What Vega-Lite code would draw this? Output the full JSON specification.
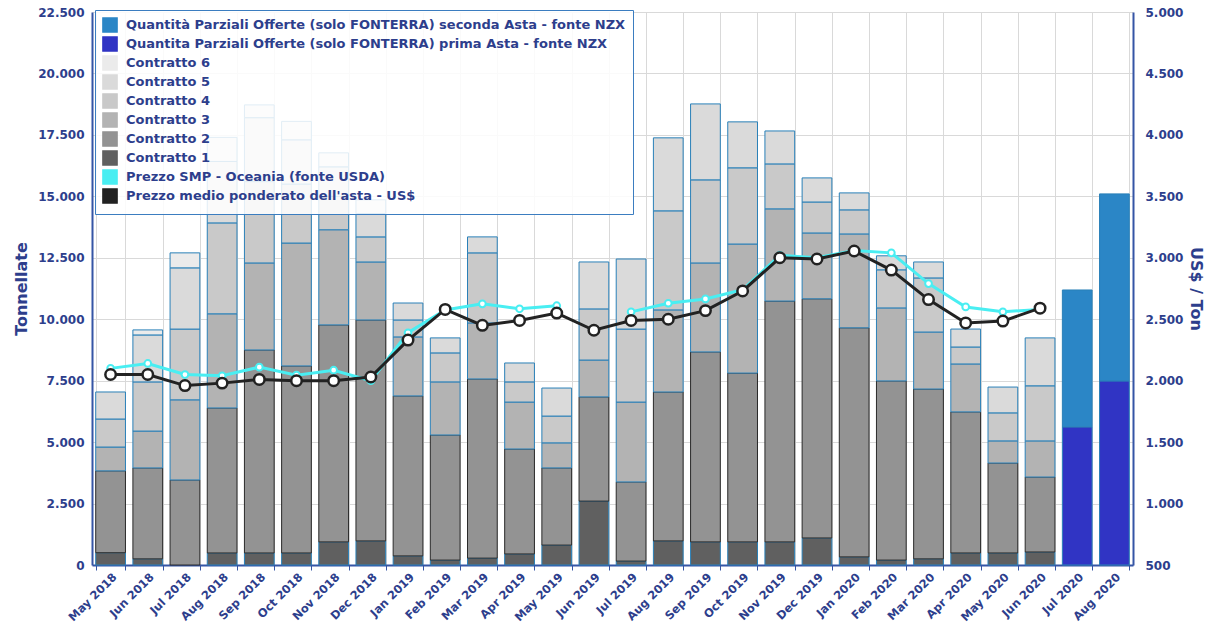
{
  "$schema": "https://vega.github.io/schema/vega-lite/v6.json",
  "width": 1041,
  "height": 553,
  "autosize": {"type": "none"},
  "padding": {"left": 92, "top": 12, "right": 83, "bottom": 60},
  "datasets": {
    "quantita": [
      {"mese": "May 2018", "serie": "Contratto 1", "t": 500},
      {"mese": "May 2018", "serie": "Contratto 2", "t": 3330},
      {"mese": "May 2018", "serie": "Contratto 3", "t": 970},
      {"mese": "May 2018", "serie": "Contratto 4", "t": 1140},
      {"mese": "May 2018", "serie": "Contratto 5", "t": 1100},
      {"mese": "Jun 2018", "serie": "Contratto 1", "t": 250},
      {"mese": "Jun 2018", "serie": "Contratto 2", "t": 3700},
      {"mese": "Jun 2018", "serie": "Contratto 3", "t": 1500},
      {"mese": "Jun 2018", "serie": "Contratto 4", "t": 2000},
      {"mese": "Jun 2018", "serie": "Contratto 5", "t": 1910},
      {"mese": "Jun 2018", "serie": "Contratto 6", "t": 205},
      {"mese": "Jul 2018", "serie": "Contratto 2", "t": 3460},
      {"mese": "Jul 2018", "serie": "Contratto 3", "t": 3260},
      {"mese": "Jul 2018", "serie": "Contratto 4", "t": 2880},
      {"mese": "Jul 2018", "serie": "Contratto 5", "t": 2490},
      {"mese": "Jul 2018", "serie": "Contratto 6", "t": 610},
      {"mese": "Aug 2018", "serie": "Contratto 1", "t": 490},
      {"mese": "Aug 2018", "serie": "Contratto 2", "t": 5900},
      {"mese": "Aug 2018", "serie": "Contratto 3", "t": 3830},
      {"mese": "Aug 2018", "serie": "Contratto 4", "t": 3700},
      {"mese": "Aug 2018", "serie": "Contratto 5", "t": 2500},
      {"mese": "Aug 2018", "serie": "Contratto 6", "t": 980},
      {"mese": "Sep 2018", "serie": "Contratto 1", "t": 490},
      {"mese": "Sep 2018", "serie": "Contratto 2", "t": 8260},
      {"mese": "Sep 2018", "serie": "Contratto 3", "t": 3540},
      {"mese": "Sep 2018", "serie": "Contratto 4", "t": 3310},
      {"mese": "Sep 2018", "serie": "Contratto 5", "t": 2600},
      {"mese": "Sep 2018", "serie": "Contratto 6", "t": 520},
      {"mese": "Oct 2018", "serie": "Contratto 1", "t": 490},
      {"mese": "Oct 2018", "serie": "Contratto 2", "t": 7610},
      {"mese": "Oct 2018", "serie": "Contratto 3", "t": 5000},
      {"mese": "Oct 2018", "serie": "Contratto 4", "t": 2400},
      {"mese": "Oct 2018", "serie": "Contratto 5", "t": 1800},
      {"mese": "Oct 2018", "serie": "Contratto 6", "t": 750},
      {"mese": "Nov 2018", "serie": "Contratto 1", "t": 940},
      {"mese": "Nov 2018", "serie": "Contratto 2", "t": 8830},
      {"mese": "Nov 2018", "serie": "Contratto 3", "t": 3870},
      {"mese": "Nov 2018", "serie": "Contratto 4", "t": 1360},
      {"mese": "Nov 2018", "serie": "Contratto 5", "t": 1200},
      {"mese": "Nov 2018", "serie": "Contratto 6", "t": 570},
      {"mese": "Dec 2018", "serie": "Contratto 1", "t": 980},
      {"mese": "Dec 2018", "serie": "Contratto 2", "t": 8990},
      {"mese": "Dec 2018", "serie": "Contratto 3", "t": 2360},
      {"mese": "Dec 2018", "serie": "Contratto 4", "t": 1020},
      {"mese": "Dec 2018", "serie": "Contratto 5", "t": 950},
      {"mese": "Dec 2018", "serie": "Contratto 6", "t": 560},
      {"mese": "Jan 2019", "serie": "Contratto 1", "t": 370},
      {"mese": "Jan 2019", "serie": "Contratto 2", "t": 6510},
      {"mese": "Jan 2019", "serie": "Contratto 3", "t": 2400},
      {"mese": "Jan 2019", "serie": "Contratto 4", "t": 690},
      {"mese": "Jan 2019", "serie": "Contratto 5", "t": 690},
      {"mese": "Feb 2019", "serie": "Contratto 1", "t": 200},
      {"mese": "Feb 2019", "serie": "Contratto 2", "t": 5090},
      {"mese": "Feb 2019", "serie": "Contratto 3", "t": 2160},
      {"mese": "Feb 2019", "serie": "Contratto 4", "t": 1180},
      {"mese": "Feb 2019", "serie": "Contratto 5", "t": 610},
      {"mese": "Mar 2019", "serie": "Contratto 1", "t": 280},
      {"mese": "Mar 2019", "serie": "Contratto 2", "t": 7290},
      {"mese": "Mar 2019", "serie": "Contratto 3", "t": 2280},
      {"mese": "Mar 2019", "serie": "Contratto 4", "t": 2850},
      {"mese": "Mar 2019", "serie": "Contratto 5", "t": 650},
      {"mese": "Apr 2019", "serie": "Contratto 1", "t": 450},
      {"mese": "Apr 2019", "serie": "Contratto 2", "t": 4270},
      {"mese": "Apr 2019", "serie": "Contratto 3", "t": 1910},
      {"mese": "Apr 2019", "serie": "Contratto 4", "t": 820},
      {"mese": "Apr 2019", "serie": "Contratto 5", "t": 770},
      {"mese": "May 2019", "serie": "Contratto 1", "t": 810},
      {"mese": "May 2019", "serie": "Contratto 2", "t": 3140},
      {"mese": "May 2019", "serie": "Contratto 3", "t": 1020},
      {"mese": "May 2019", "serie": "Contratto 4", "t": 1090},
      {"mese": "May 2019", "serie": "Contratto 5", "t": 1140},
      {"mese": "Jun 2019", "serie": "Contratto 1", "t": 2600},
      {"mese": "Jun 2019", "serie": "Contratto 2", "t": 4240},
      {"mese": "Jun 2019", "serie": "Contratto 3", "t": 1500},
      {"mese": "Jun 2019", "serie": "Contratto 4", "t": 2080},
      {"mese": "Jun 2019", "serie": "Contratto 5", "t": 1910},
      {"mese": "Jul 2019", "serie": "Contratto 1", "t": 160},
      {"mese": "Jul 2019", "serie": "Contratto 2", "t": 3220},
      {"mese": "Jul 2019", "serie": "Contratto 3", "t": 3250},
      {"mese": "Jul 2019", "serie": "Contratto 4", "t": 2970},
      {"mese": "Jul 2019", "serie": "Contratto 5", "t": 2850},
      {"mese": "Aug 2019", "serie": "Contratto 1", "t": 980},
      {"mese": "Aug 2019", "serie": "Contratto 2", "t": 6060},
      {"mese": "Aug 2019", "serie": "Contratto 3", "t": 3340},
      {"mese": "Aug 2019", "serie": "Contratto 4", "t": 4030},
      {"mese": "Aug 2019", "serie": "Contratto 5", "t": 2970},
      {"mese": "Sep 2019", "serie": "Contratto 1", "t": 940},
      {"mese": "Sep 2019", "serie": "Contratto 2", "t": 7730},
      {"mese": "Sep 2019", "serie": "Contratto 3", "t": 3620},
      {"mese": "Sep 2019", "serie": "Contratto 4", "t": 3380},
      {"mese": "Sep 2019", "serie": "Contratto 5", "t": 3090},
      {"mese": "Oct 2019", "serie": "Contratto 1", "t": 940},
      {"mese": "Oct 2019", "serie": "Contratto 2", "t": 6870},
      {"mese": "Oct 2019", "serie": "Contratto 3", "t": 5250},
      {"mese": "Oct 2019", "serie": "Contratto 4", "t": 3100},
      {"mese": "Oct 2019", "serie": "Contratto 5", "t": 1870},
      {"mese": "Nov 2019", "serie": "Contratto 1", "t": 940},
      {"mese": "Nov 2019", "serie": "Contratto 2", "t": 9800},
      {"mese": "Nov 2019", "serie": "Contratto 3", "t": 3750},
      {"mese": "Nov 2019", "serie": "Contratto 4", "t": 1830},
      {"mese": "Nov 2019", "serie": "Contratto 5", "t": 1340},
      {"mese": "Dec 2019", "serie": "Contratto 1", "t": 1100},
      {"mese": "Dec 2019", "serie": "Contratto 2", "t": 9730},
      {"mese": "Dec 2019", "serie": "Contratto 3", "t": 2680},
      {"mese": "Dec 2019", "serie": "Contratto 4", "t": 1260},
      {"mese": "Dec 2019", "serie": "Contratto 5", "t": 980},
      {"mese": "Jan 2020", "serie": "Contratto 1", "t": 330},
      {"mese": "Jan 2020", "serie": "Contratto 2", "t": 9320},
      {"mese": "Jan 2020", "serie": "Contratto 3", "t": 3820},
      {"mese": "Jan 2020", "serie": "Contratto 4", "t": 980},
      {"mese": "Jan 2020", "serie": "Contratto 5", "t": 690},
      {"mese": "Feb 2020", "serie": "Contratto 1", "t": 200},
      {"mese": "Feb 2020", "serie": "Contratto 2", "t": 7290},
      {"mese": "Feb 2020", "serie": "Contratto 3", "t": 2970},
      {"mese": "Feb 2020", "serie": "Contratto 4", "t": 1550},
      {"mese": "Feb 2020", "serie": "Contratto 5", "t": 570},
      {"mese": "Mar 2020", "serie": "Contratto 1", "t": 250},
      {"mese": "Mar 2020", "serie": "Contratto 2", "t": 6910},
      {"mese": "Mar 2020", "serie": "Contratto 3", "t": 2320},
      {"mese": "Mar 2020", "serie": "Contratto 4", "t": 2200},
      {"mese": "Mar 2020", "serie": "Contratto 5", "t": 650},
      {"mese": "Apr 2020", "serie": "Contratto 1", "t": 490},
      {"mese": "Apr 2020", "serie": "Contratto 2", "t": 5740},
      {"mese": "Apr 2020", "serie": "Contratto 3", "t": 1950},
      {"mese": "Apr 2020", "serie": "Contratto 4", "t": 690},
      {"mese": "Apr 2020", "serie": "Contratto 5", "t": 730},
      {"mese": "May 2020", "serie": "Contratto 1", "t": 490},
      {"mese": "May 2020", "serie": "Contratto 2", "t": 3660},
      {"mese": "May 2020", "serie": "Contratto 3", "t": 900},
      {"mese": "May 2020", "serie": "Contratto 4", "t": 1140},
      {"mese": "May 2020", "serie": "Contratto 5", "t": 1050},
      {"mese": "Jun 2020", "serie": "Contratto 1", "t": 530},
      {"mese": "Jun 2020", "serie": "Contratto 2", "t": 3050},
      {"mese": "Jun 2020", "serie": "Contratto 3", "t": 1470},
      {"mese": "Jun 2020", "serie": "Contratto 4", "t": 2240},
      {"mese": "Jun 2020", "serie": "Contratto 5", "t": 1950},
      {"mese": "Jul 2020", "serie": "Quantita Parziali Offerte (solo FONTERRA) prima Asta - fonte NZX", "t": 5620},
      {"mese": "Jul 2020", "serie": "Quantità Parziali Offerte (solo FONTERRA) seconda Asta - fonte NZX", "t": 5570},
      {"mese": "Aug 2020", "serie": "Quantita Parziali Offerte (solo FONTERRA) prima Asta - fonte NZX", "t": 7490},
      {"mese": "Aug 2020", "serie": "Quantità Parziali Offerte (solo FONTERRA) seconda Asta - fonte NZX", "t": 7610}
    ],
    "prezzi": [
      {"mese": "May 2018", "serie": "Prezzo SMP - Oceania (fonte USDA)", "prezzo": 2100},
      {"mese": "Jun 2018", "serie": "Prezzo SMP - Oceania (fonte USDA)", "prezzo": 2140},
      {"mese": "Jul 2018", "serie": "Prezzo SMP - Oceania (fonte USDA)", "prezzo": 2050},
      {"mese": "Aug 2018", "serie": "Prezzo SMP - Oceania (fonte USDA)", "prezzo": 2040},
      {"mese": "Sep 2018", "serie": "Prezzo SMP - Oceania (fonte USDA)", "prezzo": 2110},
      {"mese": "Oct 2018", "serie": "Prezzo SMP - Oceania (fonte USDA)", "prezzo": 2045},
      {"mese": "Nov 2018", "serie": "Prezzo SMP - Oceania (fonte USDA)", "prezzo": 2085},
      {"mese": "Dec 2018", "serie": "Prezzo SMP - Oceania (fonte USDA)", "prezzo": 2000},
      {"mese": "Jan 2019", "serie": "Prezzo SMP - Oceania (fonte USDA)", "prezzo": 2390},
      {"mese": "Feb 2019", "serie": "Prezzo SMP - Oceania (fonte USDA)", "prezzo": 2575},
      {"mese": "Mar 2019", "serie": "Prezzo SMP - Oceania (fonte USDA)", "prezzo": 2625},
      {"mese": "Apr 2019", "serie": "Prezzo SMP - Oceania (fonte USDA)", "prezzo": 2585},
      {"mese": "May 2019", "serie": "Prezzo SMP - Oceania (fonte USDA)", "prezzo": 2610},
      {"mese": "Jun 2019", "serie": "Prezzo SMP - Oceania (fonte USDA)", "prezzo": null},
      {"mese": "Jul 2019", "serie": "Prezzo SMP - Oceania (fonte USDA)", "prezzo": 2560},
      {"mese": "Aug 2019", "serie": "Prezzo SMP - Oceania (fonte USDA)", "prezzo": 2630},
      {"mese": "Sep 2019", "serie": "Prezzo SMP - Oceania (fonte USDA)", "prezzo": 2665},
      {"mese": "Oct 2019", "serie": "Prezzo SMP - Oceania (fonte USDA)", "prezzo": 2740},
      {"mese": "Nov 2019", "serie": "Prezzo SMP - Oceania (fonte USDA)", "prezzo": 3020},
      {"mese": "Dec 2019", "serie": "Prezzo SMP - Oceania (fonte USDA)", "prezzo": 3000},
      {"mese": "Jan 2020", "serie": "Prezzo SMP - Oceania (fonte USDA)", "prezzo": 3060},
      {"mese": "Feb 2020", "serie": "Prezzo SMP - Oceania (fonte USDA)", "prezzo": 3040},
      {"mese": "Mar 2020", "serie": "Prezzo SMP - Oceania (fonte USDA)", "prezzo": 2790},
      {"mese": "Apr 2020", "serie": "Prezzo SMP - Oceania (fonte USDA)", "prezzo": 2600},
      {"mese": "May 2020", "serie": "Prezzo SMP - Oceania (fonte USDA)", "prezzo": 2560},
      {"mese": "Jun 2020", "serie": "Prezzo SMP - Oceania (fonte USDA)", "prezzo": 2580},
      {"mese": "May 2018", "serie": "Prezzo medio ponderato dell'asta - US$", "prezzo": 2050},
      {"mese": "Jun 2018", "serie": "Prezzo medio ponderato dell'asta - US$", "prezzo": 2050},
      {"mese": "Jul 2018", "serie": "Prezzo medio ponderato dell'asta - US$", "prezzo": 1960},
      {"mese": "Aug 2018", "serie": "Prezzo medio ponderato dell'asta - US$", "prezzo": 1980},
      {"mese": "Sep 2018", "serie": "Prezzo medio ponderato dell'asta - US$", "prezzo": 2010},
      {"mese": "Oct 2018", "serie": "Prezzo medio ponderato dell'asta - US$", "prezzo": 2000},
      {"mese": "Nov 2018", "serie": "Prezzo medio ponderato dell'asta - US$", "prezzo": 2000},
      {"mese": "Dec 2018", "serie": "Prezzo medio ponderato dell'asta - US$", "prezzo": 2030},
      {"mese": "Jan 2019", "serie": "Prezzo medio ponderato dell'asta - US$", "prezzo": 2330},
      {"mese": "Feb 2019", "serie": "Prezzo medio ponderato dell'asta - US$", "prezzo": 2580},
      {"mese": "Mar 2019", "serie": "Prezzo medio ponderato dell'asta - US$", "prezzo": 2450},
      {"mese": "Apr 2019", "serie": "Prezzo medio ponderato dell'asta - US$", "prezzo": 2490},
      {"mese": "May 2019", "serie": "Prezzo medio ponderato dell'asta - US$", "prezzo": 2550},
      {"mese": "Jun 2019", "serie": "Prezzo medio ponderato dell'asta - US$", "prezzo": 2410},
      {"mese": "Jul 2019", "serie": "Prezzo medio ponderato dell'asta - US$", "prezzo": 2490},
      {"mese": "Aug 2019", "serie": "Prezzo medio ponderato dell'asta - US$", "prezzo": 2500},
      {"mese": "Sep 2019", "serie": "Prezzo medio ponderato dell'asta - US$", "prezzo": 2570},
      {"mese": "Oct 2019", "serie": "Prezzo medio ponderato dell'asta - US$", "prezzo": 2730},
      {"mese": "Nov 2019", "serie": "Prezzo medio ponderato dell'asta - US$", "prezzo": 3000},
      {"mese": "Dec 2019", "serie": "Prezzo medio ponderato dell'asta - US$", "prezzo": 2990},
      {"mese": "Jan 2020", "serie": "Prezzo medio ponderato dell'asta - US$", "prezzo": 3055},
      {"mese": "Feb 2020", "serie": "Prezzo medio ponderato dell'asta - US$", "prezzo": 2900},
      {"mese": "Mar 2020", "serie": "Prezzo medio ponderato dell'asta - US$", "prezzo": 2660},
      {"mese": "Apr 2020", "serie": "Prezzo medio ponderato dell'asta - US$", "prezzo": 2470},
      {"mese": "May 2020", "serie": "Prezzo medio ponderato dell'asta - US$", "prezzo": 2485},
      {"mese": "Jun 2020", "serie": "Prezzo medio ponderato dell'asta - US$", "prezzo": 2590}
    ]
  },
  "encoding": {
    "x": {
      "field": "mese",
      "type": "ordinal",
      "sort": null,
      "scale": {
        "domain": ["May 2018", "Jun 2018", "Jul 2018", "Aug 2018", "Sep 2018", "Oct 2018", "Nov 2018", "Dec 2018", "Jan 2019", "Feb 2019", "Mar 2019", "Apr 2019", "May 2019", "Jun 2019", "Jul 2019", "Aug 2019", "Sep 2019", "Oct 2019", "Nov 2019", "Dec 2019", "Jan 2020", "Feb 2020", "Mar 2020", "Apr 2020", "May 2020", "Jun 2020", "Jul 2020", "Aug 2020"],
        "paddingInner": 0.2,
        "paddingOuter": 0.1
      },
      "axis": {
        "title": null,
        "labelAngle": -45,
        "labelAlign": "right",
        "labelBaseline": "top",
        "labelPadding": 1,
        "labelFontSize": 11.5,
        "tickBand": "extent",
        "tickSize": 5,
        "grid": true
      }
    }
  },
  "layer": [
    {
      "data": {"name": "quantita"},
      "mark": {"type": "bar", "strokeWidth": 1},
      "encoding": {
        "y": {
          "field": "t",
          "type": "quantitative",
          "stack": "zero",
          "scale": {"domain": [0, 22500], "nice": false},
          "axis": {
            "title": "Tonnellate",
            "values": [0, 2500, 5000, 7500, 10000, 12500, 15000, 17500, 20000, 22500],
            "labelExpr": "replace(format(datum.value, ','), ',', '.')",
            "grid": true,
            "ticks": false,
            "labelPadding": 8,
            "titlePadding": 8
          }
        },
        "color": {
          "field": "serie",
          "type": "nominal",
          "scale": {
            "domain": [
              "Quantità Parziali Offerte (solo FONTERRA) seconda Asta - fonte NZX",
              "Quantita Parziali Offerte (solo FONTERRA) prima Asta - fonte NZX",
              "Contratto 6", "Contratto 5", "Contratto 4", "Contratto 3", "Contratto 2", "Contratto 1",
              "Prezzo SMP - Oceania (fonte USDA)",
              "Prezzo medio ponderato dell'asta - US$"
            ],
            "range": ["#2b86c6", "#3034c4", "#ebebeb", "#dadada", "#c9c9c9", "#b3b3b3", "#939393", "#606060", "#49eef2", "#222222"]
          },
          "legend": {
            "title": null,
            "orient": "none",
            "legendX": 3,
            "legendY": -2,
            "fillColor": "rgba(255,255,255,0.86)",
            "strokeColor": "#3b7dc0",
            "padding": 7,
            "labelFont": "DejaVu Sans",
            "labelFontWeight": "bold",
            "labelFontSize": 13,
            "labelColor": "#2d3e8c",
            "labelLimit": 700,
            "symbolType": "square",
            "symbolSize": 200,
            "rowPadding": -3,
            "labelOffset": 8,
            "encode": {
              "legend": {"update": {"strokeWidth": {"value": 2}}},
              "symbols": {
                "update": {
                  "size": {"value": 200},
                  "shape": {"signal": "indexof(datum.value, 'Prezzo') === 0 ? 'stroke' : 'square'"},
                  "stroke": {"signal": "indexof(datum.value, 'Prezzo') === 0 ? scale('color', datum.value) : 'transparent'"},
                  "strokeWidth": {"signal": "indexof(datum.value, 'Prezzo') === 0 ? 3 : 0"}
                }
              }
            }
          }
        },
        "order": {"field": "serie", "sort": "ascending"},
        "stroke": {
          "condition": {"test": "datum.serie === 'Contratto 2'", "value": "#2a2a2a"},
          "value": "#2a80b8"
        }
      }
    },
    {
      "data": {"name": "prezzi"},
      "encoding": {
        "y": {
          "field": "prezzo",
          "type": "quantitative",
          "scale": {"domain": [500, 5000], "nice": false},
          "axis": {
            "title": "US$ / Ton",
            "orient": "right",
            "values": [500, 1000, 1500, 2000, 2500, 3000, 3500, 4000, 4500, 5000],
            "labelExpr": "replace(format(datum.value, ','), ',', '.')",
            "grid": false,
            "ticks": false,
            "labelPadding": 12,
            "titlePadding": 5
          }
        }
      },
      "layer": [
        {
          "transform": [{"filter": "indexof(datum.serie, 'SMP') > 0"}],
          "mark": {"type": "line", "strokeWidth": 3, "invalid": "break-paths-filter-domains"},
          "encoding": {"color": {"field": "serie", "type": "nominal"}}
        },
        {
          "transform": [{"filter": "indexof(datum.serie, 'SMP') > 0 && isValid(datum.prezzo)"}],
          "mark": {"type": "point", "filled": true, "fill": "white", "stroke": "#49eef2", "strokeWidth": 2, "size": 45, "opacity": 1},
          "encoding": {}
        },
        {
          "transform": [{"filter": "indexof(datum.serie, 'SMP') < 0"}],
          "mark": {"type": "line", "strokeWidth": 3},
          "encoding": {"color": {"field": "serie", "type": "nominal"}}
        },
        {
          "transform": [{"filter": "indexof(datum.serie, 'SMP') < 0"}],
          "mark": {"type": "point", "filled": true, "fill": "white", "stroke": "#222222", "strokeWidth": 2.5, "size": 110, "opacity": 1},
          "encoding": {}
        }
      ]
    }
  ],
  "resolve": {"scale": {"y": "independent"}},
  "config": {
    "view": {"stroke": null},
    "axis": {
      "labelFont": "DejaVu Sans",
      "labelFontWeight": "bold",
      "labelFontSize": 12,
      "labelColor": "#2d3e8c",
      "titleFont": "DejaVu Sans",
      "titleFontWeight": "bold",
      "titleFontSize": 16,
      "titleColor": "#2d3e8c",
      "domainColor": "#3555a5",
      "domainWidth": 2,
      "tickColor": "#3555a5",
      "gridColor": "#d9d9d9",
      "gridWidth": 1
    }
  }
}
